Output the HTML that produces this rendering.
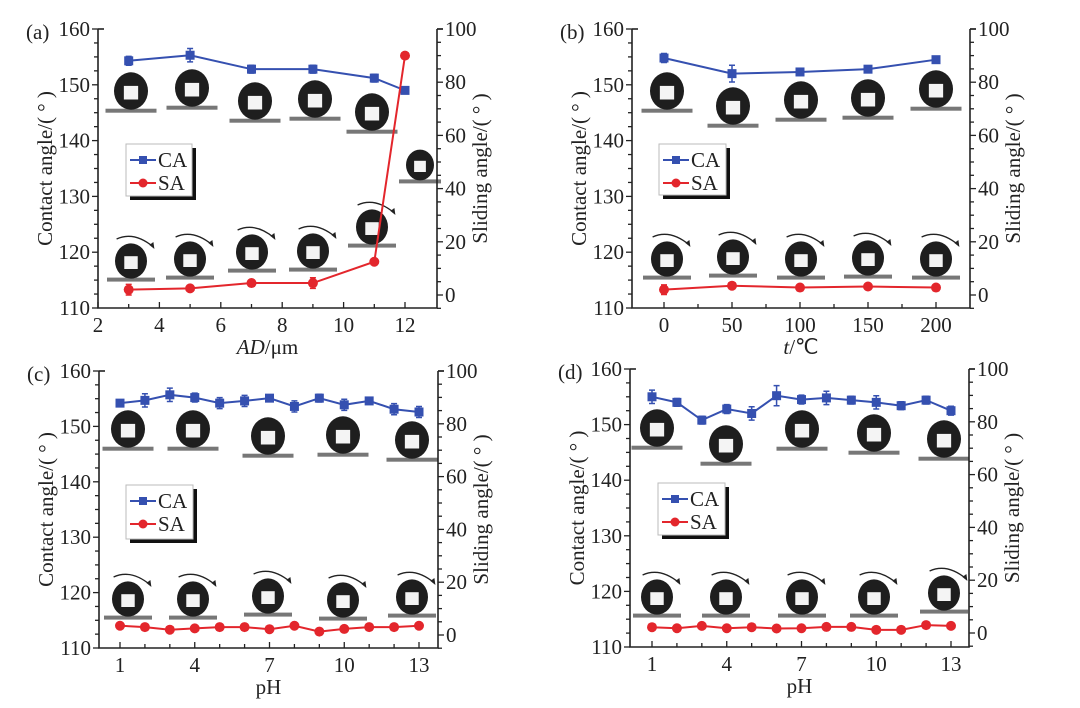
<!DOCTYPE html>
<html><head><meta charset="utf-8">
<style>
html,body{margin:0;padding:0;background:#fff;}
svg{display:block;font-family:"Liberation Serif",serif;}
</style></head>
<body>
<svg id="fig" width="1080" height="708" viewBox="0 0 1080 708" xmlns="http://www.w3.org/2000/svg"></svg>
<script>
// Panel (a)
const aX = [3, 5, 7, 9, 11, 12];
const aCA = [154.3, 155.3, 152.8, 152.8, 151.2, 149.0];
const aCAerr = [0.8, 1.2, 0.7, 0.7, 0.7, 0.3];
const aSA = [2.0, 2.5, 4.5, 4.5, 12.5, 90.0];
const aSAerr = [2.0, 1.0, 0.8, 2.0, 0.5, 0.3];
const aTicks = [2, 4, 6, 8, 10, 12];
// Panel (b)
const bX = [0, 50, 100, 150, 200];
const bCA = [154.8, 152.0, 152.3, 152.8, 154.5];
const bCAerr = [0.8, 1.5, 0.4, 0.6, 0.4];
const bSA = [2.0, 3.5, 2.8, 3.2, 2.8];
const bSAerr = [1.8, 0.5, 0.5, 0.5, 0.4];
const bTicks = [0, 50, 100, 150, 200];
// Panel (c)
const cX = [1,2,3,4,5,6,7,8,9,10,11,12,13];
const cCA = [154.2,154.7,155.7,155.2,154.2,154.6,155.1,153.6,155.1,153.9,154.6,153.1,152.6];
const cCAerr = [0.4,1.2,1.2,0.8,1.0,1.0,0.4,1.0,0.7,1.0,0.4,1.0,1.0];
const cSA = [3.5,3.0,2.0,2.5,3.0,3.0,2.2,3.5,1.3,2.3,3.0,3.0,3.5];
const cTicks = [1, 4, 7, 10, 13];
// Panel (d)
const dX = [1,2,3,4,5,6,7,8,9,10,11,12,13];
const dCA = [155.0,154.0,150.8,152.8,152.0,155.2,154.5,154.8,154.4,154.0,153.4,154.4,152.5];
const dCAerr = [1.2,0.7,0.7,0.8,1.2,1.8,0.8,1.2,0.7,1.2,0.7,0.7,0.8];
const dSA = [2.2,1.8,2.7,1.8,2.2,1.7,1.8,2.3,2.3,1.2,1.2,3.0,2.7];
const dTicks = [1, 4, 7, 10, 13];

const leftTicks = [110, 120, 130, 140, 150, 160];
const rightTicks = [0, 20, 40, 60, 80, 100];

const NS = "http://www.w3.org/2000/svg";
const svg = document.getElementById('fig');
const BLUE = "#3550b0", RED = "#e3262c";
function mk(tag, attrs, parent, text){
  const e = document.createElementNS(NS, tag);
  for (const k in attrs) e.setAttribute(k, attrs[k]);
  if (text !== undefined) e.textContent = text;
  (parent || svg).appendChild(e);
  return e;
}

function droplet(g, cx, cy, r){
  const d = mk('g', {}, g);
  
  
  mk('rect', {x: cx - r*1.5, y: cy + r*1.1 - 1, width: r*3, height: 4, fill: "#777"}, d);
  mk('ellipse', {cx: cx, cy: cy, rx: r, ry: r*1.1, fill: "#1e1e1e"}, d);
  mk('rect', {x: cx - r*0.42, y: cy - r*0.3, width: r*0.84, height: r*0.8, fill: "#f4f4f4"}, d);
}
function arrow(g, cx, cy, r){
  const a = mk('path', {d: `M${cx - r*0.9} ${cy - r - 6} Q ${cx + r*0.2} ${cy - r - 14} ${cx + r*1.4} ${cy - r + 2}`, fill: "none", stroke: "#222", "stroke-width": 1.3}, g);
  
  
  mk('path', {d: `M${cx + r*1.4 - 4} ${cy - r} L ${cx + r*1.4 + 1} ${cy - r + 4} L ${cx + r*1.4} ${cy - r - 3} Z`, fill: "#222"}, g);
}

function panel(P){
  const g = mk('g', {});
  
  
  const xs = v => P.x0 + (v - P.xv0) * (P.x1 - P.x0) / (P.xv1 - P.xv0);
  const yl = v => P.yTop + (160 - v) * (P.yBot - P.yTop) / 50;
  const yR = v => P.rZero - v * (P.rZero - P.yTop) / 100;

  P.top.forEach(t => droplet(g, t[0], t[1], 17));
  P.bot.forEach(t => { droplet(g, t[0], t[1], 16); arrow(g, t[0], t[1], 16); });
  if (P.extra) droplet(g, P.extra[0], P.extra[1], 14);

  const ax = mk('path', {d: `M${P.L} ${P.yTop} V${P.yBot} H${P.R} V${P.yTop}`, fill: "none", stroke: "#222", "stroke-width": 1.6}, g);
  
  
  mk('line', {x1: P.L, y1: P.yTop, x2: P.L + 6, y2: P.yTop, stroke: "#222", "stroke-width": 1.6}, g);
  mk('line', {x1: P.R, y1: P.yTop, x2: P.R + 6, y2: P.yTop, stroke: "#222", "stroke-width": 1.6}, g);
  for (let v = 110; v <= 160; v += 2.5){
    const y = yl(v), major = (v % 10 === 0);
    mk('line', {x1: P.L, x2: P.L - (major ? 6 : 4), y1: y, y2: y, stroke: "#222", "stroke-width": 1.3}, g);
  }
  leftTicks.forEach(v => {
    const t = mk('text', {x: P.L - 8, y: yl(v) + 7, "text-anchor": "end", "font-size": 21, fill: "#222"}, g, v);
    
    
  });
  for (let v = -5; v <= 100; v += 5){
    const y = yR(v), major = (v % 20 === 0);
    mk('line', {x1: P.R, x2: P.R + (major ? 6 : 4), y1: y, y2: y, stroke: "#222", "stroke-width": 1.3}, g);
  }
  rightTicks.forEach(v => {
    const t = mk('text', {x: P.R + 8, y: yR(v) + 7, "text-anchor": "start", "font-size": 21, fill: "#222"}, g, v);
    
    
  });
  P.minorX.forEach(v => {
    mk('line', {x1: xs(v), x2: xs(v), y1: P.yBot, y2: P.yBot - 4, stroke: "#222", "stroke-width": 1.3}, g);
  });
  P.ticks.forEach(v => {
    mk('line', {x1: xs(v), x2: xs(v), y1: P.yBot, y2: P.yBot - 6, stroke: "#222", "stroke-width": 1.3}, g);
    const t = mk('text', {x: xs(v), y: P.yBot + 24, "text-anchor": "middle", "font-size": 21, fill: "#222"}, g, v);
    
    
  });

  const cyMid = (P.yTop + P.yBot) / 2;
  const lt = mk('text', {x: 0, y: 0, transform: `translate(${P.L - 46},${cyMid}) rotate(-90)`, "text-anchor": "middle", "font-size": 21, fill: "#222"}, g, "Contact angle/( ° )");
  
  
  const rt = mk('text', {x: 0, y: 0, transform: `translate(${P.R + 50},${cyMid}) rotate(-90)`, "text-anchor": "middle", "font-size": 21, fill: "#222"}, g, "Sliding angle/( ° )");
  
  
  const xt = mk('text', {x: (P.L + P.R) / 2, y: P.yBot + 46, "text-anchor": "middle", "font-size": 21, fill: "#222"}, g);
  xt.innerHTML = P.xtitle;
  
  
  const pl = mk('text', {x: P.L - 72, y: P.yTop + 10, "font-size": 21, fill: "#222"}, g, "(" + P.id + ")");
  
  

  const caPts = P.X.map((x, i) => xs(x) + "," + yl(P.CA[i])).join(" ");
  const cl = mk('polyline', {points: caPts, fill: "none", stroke: BLUE, "stroke-width": 2}, g);
  
  
  P.X.forEach((x, i) => {
    const X = xs(x), Y = yl(P.CA[i]), e = P.CAerr[i];
    mk('path', {d: `M${X} ${yl(P.CA[i] + e)} V${yl(P.CA[i] - e)} M${X - 3} ${yl(P.CA[i] + e)} H${X + 3} M${X - 3} ${yl(P.CA[i] - e)} H${X + 3}`, stroke: BLUE, "stroke-width": 1.5, fill: "none"}, g);
    const m = mk('rect', {x: X - 4.5, y: Y - 4.5, width: 9, height: 9, fill: BLUE}, g);
    
    
  });
  const saPts = P.X.map((x, i) => xs(x) + "," + yR(P.SA[i])).join(" ");
  const sl = mk('polyline', {points: saPts, fill: "none", stroke: RED, "stroke-width": 2}, g);
  
  
  P.X.forEach((x, i) => {
    const X = xs(x), Y = yR(P.SA[i]);
    if (P.SAerr){
      const e = P.SAerr[i];
      mk('path', {d: `M${X} ${yR(P.SA[i] + e)} V${yR(P.SA[i] - e)} M${X - 3} ${yR(P.SA[i] + e)} H${X + 3} M${X - 3} ${yR(P.SA[i] - e)} H${X + 3}`, stroke: RED, "stroke-width": 1.5, fill: "none"}, g);
    }
    const m = mk('circle', {cx: X, cy: Y, r: 5, fill: RED}, g);
    
    
  });

  const lg = mk('g', {}, g);
  
  
  const [lx, ly, lw, lh] = P.leg;
  mk('rect', {x: lx + 4, y: ly + 4, width: lw, height: lh, fill: "#111"}, lg);
  mk('rect', {x: lx, y: ly, width: lw, height: lh, fill: "#fff", stroke: "#bbb", "stroke-width": 1}, lg);
  mk('line', {x1: lx + 4, x2: lx + 30, y1: ly + 16, y2: ly + 16, stroke: BLUE, "stroke-width": 2}, lg);
  mk('rect', {x: lx + 13, y: ly + 12, width: 8, height: 8, fill: BLUE}, lg);
  const e1 = mk('text', {x: lx + 32, y: ly + 23, "font-size": 21, fill: "#222"}, lg, "CA");
  
  
  mk('line', {x1: lx + 4, x2: lx + 30, y1: ly + 39, y2: ly + 39, stroke: RED, "stroke-width": 2}, lg);
  mk('circle', {cx: lx + 17, cy: ly + 39, r: 4.5, fill: RED}, lg);
  const e2 = mk('text', {x: lx + 32, y: ly + 46, "font-size": 21, fill: "#222"}, lg, "SA");
  
  
}

panel({id: "a", L: 98, R: 437, yTop: 29, yBot: 308, rZero: 295,
  x0: 98, x1: 405, xv0: 2, xv1: 12, X: aX, CA: aCA, CAerr: aCAerr, SA: aSA, SAerr: aSAerr,
  ticks: aTicks, minorX: [3,5,7,9,11], xtitle: '<tspan font-style="italic">AD</tspan>/μm',
  top: [[131,91],[192,88],[255,101],[315,99],[372,112]],
  bot: [[131,261],[190,259],[252,252],[313,251],[372,227]], extra: [420,165],
  leg: [126,144,66,52]});
panel({id: "b", L: 632, R: 970, yTop: 29, yBot: 308, rZero: 295,
  x0: 664, x1: 936, xv0: 0, xv1: 200, X: bX, CA: bCA, CAerr: bCAerr, SA: bSA, SAerr: bSAerr,
  ticks: bTicks, minorX: [25,75,125,175], xtitle: '<tspan font-style="italic">t</tspan>/℃',
  top: [[667,91],[733,106],[801,100],[868,98],[936,89]],
  bot: [[667,259],[733,257],[801,259],[868,258],[936,259]],
  leg: [659,144,67,51]});
panel({id: "c", L: 99, R: 438, yTop: 371, yBot: 648, rZero: 635,
  x0: 120, x1: 419, xv0: 1, xv1: 13, X: cX, CA: cCA, CAerr: cCAerr, SA: cSA,
  ticks: cTicks, minorX: [2,3,5,6,8,9,11,12], xtitle: 'pH',
  top: [[128,429],[193,429],[268,436],[343,435],[412,440]],
  bot: [[128,599],[193,599],[268,596],[343,600],[412,597]],
  leg: [126,485,67,54]});
panel({id: "d", L: 630, R: 969, yTop: 369, yBot: 647, rZero: 633,
  x0: 652, x1: 951, xv0: 1, xv1: 13, X: dX, CA: dCA, CAerr: dCAerr, SA: dSA,
  ticks: dTicks, minorX: [2,3,5,6,8,9,11,12], xtitle: 'pH',
  top: [[657,428],[726,444],[802,429],[874,433],[944,439]],
  bot: [[657,597],[726,597],[802,597],[874,597],[944,593]],
  leg: [658,483,67,52]});
</script>
</body></html>
